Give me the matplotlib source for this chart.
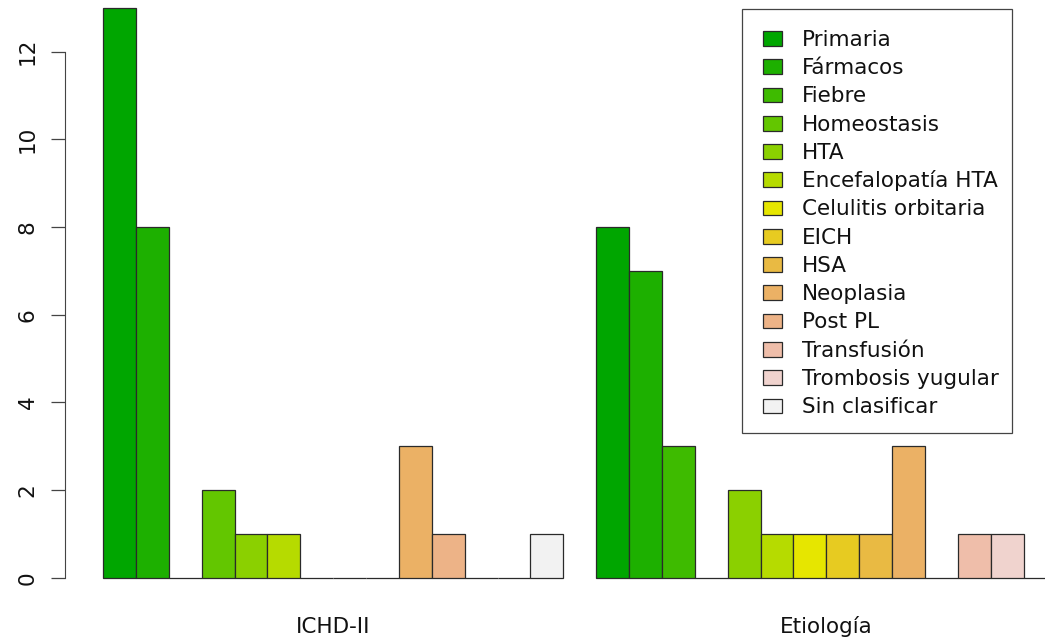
import colorsys
import numpy as np
import matplotlib
matplotlib.use("Agg")
import matplotlib.pyplot as plt
from matplotlib.patches import Rectangle

categorias = ["Primaria", "Fármacos", "Fiebre", "Homeostasis", "HTA",
              "Encefalopatía HTA", "Celulitis orbitaria", "EICH", "HSA",
              "Neoplasia", "Post PL", "Transfusión", "Trombosis yugular",
              "Sin clasificar"]
grupos = ["ICHD-II", "Etiología"]
ichd = [13, 8, 0, 2, 1, 1, 0, 0, 0, 3, 1, 0, 0, 1]
etiologia = [8, 7, 3, 0, 2, 1, 1, 1, 1, 3, 0, 1, 1, 0]
yticks = [0, 2, 4, 6, 8, 10, 12]


def terrain_colors(n):
    # same ramp as R's terrain.colors()
    k = n // 2
    h = np.concatenate([np.linspace(4 / 12, 2 / 12, k),
                        np.linspace(2 / 12, 0, n - k + 1)[1:]])
    s = np.concatenate([np.linspace(1, 1, k), np.linspace(1, 0, n - k + 1)[1:]])
    v = np.concatenate([np.linspace(0.65, 0.9, k),
                        np.linspace(0.9, 0.95, n - k + 1)[1:]])
    return [colorsys.hsv_to_rgb(a, b, c) for a, b, c in zip(h, s, v)]


W, H, DPI = 1045, 641, 100
FS = 15.5
colores = terrain_colors(len(categorias))

fig = plt.figure(figsize=(W / DPI, H / DPI), dpi=DPI)
ax = fig.add_axes([0, 0, 1, 1])

# pixel layout
px_x1, px_unit_x = 103.0, 32.88
px_y0, px_unit_y = 577.7, 43.83
ax.set_xlim(1 - px_x1 / px_unit_x, 1 + (W - px_x1) / px_unit_x)
ax.set_ylim(-(H - px_y0) / px_unit_y, px_y0 / px_unit_y)

n = len(categorias)
for g, valores in enumerate([ichd, etiologia]):
    left = 1 + g * (n + 1) + np.arange(n)
    ax.bar(left, valores, width=1, align="edge", color=colores,
           edgecolor="#2a2a2a", linewidth=0.9)
    ax.text(1 + g * (n + 1) + n / 2, -(633.3 - px_y0) / px_unit_y, grupos[g],
            ha="center", va="baseline", fontsize=FS, color="#111111")

for side in ["top", "right", "bottom"]:
    ax.spines[side].set_visible(False)
ax.spines["left"].set_position(("data", 1 - (px_x1 - 65.3) / px_unit_x))
ax.spines["left"].set_bounds(0, 12)
ax.spines["left"].set_color("#444444")
ax.set_xticks([])
ax.set_yticks(yticks)
ax.tick_params(axis="y", length=10, width=0.9, color="#444444",
               labelrotation=90, pad=10, labelsize=FS, labelcolor="#111111")
for lab in ax.get_yticklabels():
    lab.set_va("center")


def fx(px):
    return px / W


def fy(py):
    return 1 - py / H


# legend box drawn by hand to match the R legend
fig.add_artist(Rectangle((fx(742.3), fy(433.3)), fx(1011.7) - fx(742.3),
                         fy(9.3) - fy(433.3), transform=fig.transFigure,
                         facecolor="white", edgecolor="#444444", linewidth=0.9))
paso = 28.27
for i, (cat, col) in enumerate(zip(categorias, colores)):
    top = 31.0 + paso * i
    fig.add_artist(Rectangle((fx(763.3), fy(top + 14.7)), fx(781.5) - fx(763.3),
                             fy(top) - fy(top + 14.7), transform=fig.transFigure,
                             facecolor=col, edgecolor="#2a2a2a", linewidth=0.9))
    fig.text(fx(801.7), fy(top + 14.7), cat, ha="left", va="baseline",
             fontsize=FS, color="#111111")

fig.savefig("out.png", dpi=DPI)
